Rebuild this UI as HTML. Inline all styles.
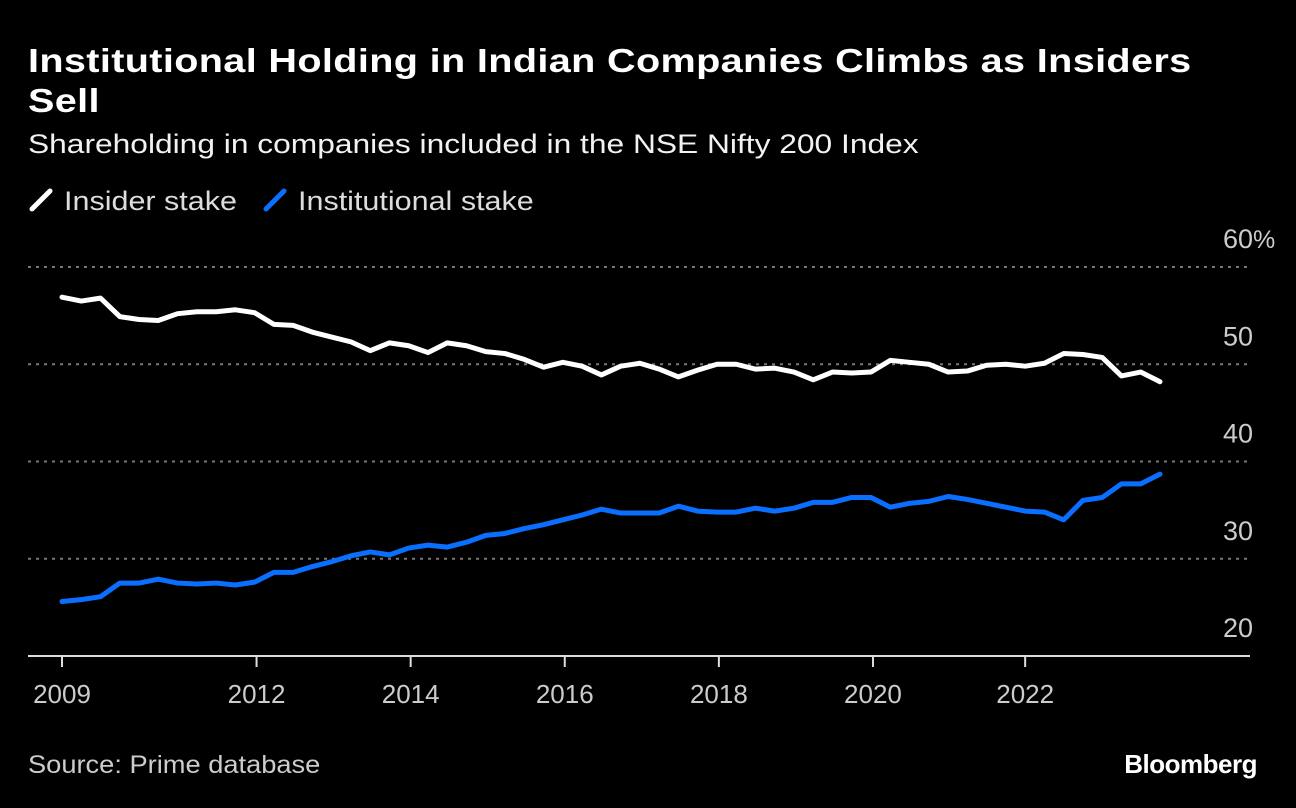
<!DOCTYPE html>
<html><head><meta charset="utf-8">
<style>
body{margin:0;background:#000;width:1296px;height:808px;overflow:hidden;font-family:"Liberation Sans",sans-serif;}
.tl{position:absolute;left:28px;color:#fff;font-weight:bold;font-size:33px;white-space:nowrap;transform:scaleX(1.2);transform-origin:left top;letter-spacing:0.3px;}
#sub{position:absolute;left:28px;top:129px;color:#f2f2f2;font-size:27px;white-space:nowrap;transform:scaleX(1.175);transform-origin:left top;}
.leg{position:absolute;top:186px;color:#ddd;font-size:27px;white-space:nowrap;}
.leg span{display:inline-block;transform:scaleX(1.13);transform-origin:left center;}
#src{position:absolute;left:28px;top:751px;color:#ccc;font-size:25px;white-space:nowrap;transform:scaleX(1.09);transform-origin:left top;}
#bb{position:absolute;right:39px;top:749px;color:#fff;font-size:26px;font-weight:bold;letter-spacing:-0.5px;}
</style></head><body>
<div class="tl" style="top:42px">Institutional Holding in Indian Companies Climbs as Insiders</div>
<div class="tl" style="top:82px">Sell</div>
<div id="sub">Shareholding in companies included in the NSE Nifty 200 Index</div>
<div class="leg" style="left:28px"><svg width="28" height="26" style="vertical-align:-3px"><line x1="4" y1="22" x2="22" y2="4" stroke="#fff" stroke-width="5" stroke-linecap="round"/></svg> <span>Insider stake</span></div>
<div class="leg" style="left:262px"><svg width="28" height="26" style="vertical-align:-3px"><line x1="4" y1="22" x2="22" y2="4" stroke="#0a6fff" stroke-width="5" stroke-linecap="round"/></svg> <span>Institutional stake</span></div>
<svg id="chart" width="1296" height="808" style="position:absolute;left:0;top:0"></svg>
<div id="src">Source: Prime database</div>
<div id="bb">Bloomberg</div>
<script>
const insider=[56.9,56.5,56.8,54.9,54.6,54.5,55.2,55.4,55.4,55.6,55.3,54.1,54.0,53.3,52.8,52.3,51.4,52.2,51.9,51.2,52.2,51.9,51.3,51.1,50.5,49.7,50.2,49.8,48.9,49.8,50.1,49.5,48.7,49.4,50.0,50.0,49.5,49.6,49.2,48.4,49.2,49.1,49.2,50.4,50.2,50.0,49.2,49.3,49.9,50.0,49.8,50.1,51.1,51.0,50.7,48.8,49.2,48.2];
const institutional=[25.6,25.8,26.1,27.5,27.5,27.9,27.5,27.4,27.5,27.3,27.6,28.6,28.6,29.2,29.7,30.3,30.7,30.4,31.1,31.4,31.2,31.7,32.4,32.6,33.1,33.5,34.0,34.5,35.1,34.7,34.7,34.7,35.4,34.9,34.8,34.8,35.2,34.9,35.2,35.8,35.8,36.3,36.3,35.3,35.7,35.9,36.4,36.1,35.7,35.3,34.9,34.8,34.0,36.0,36.3,37.7,37.7,38.7];
const xTickLabels=["2009","2012","2014","2016","2018","2020","2022"];
const xTickIdx=[0,10.1,18.1,26.1,34.1,42.1,50.0];
const yTicks=[20,30,40,50,60];
const NS="http://www.w3.org/2000/svg";
const svg=document.getElementById('chart');
const X=i=>62+i*((1160-62)/57);
const Y=v=>656-(v-20)*(656-267)/40;
function mk(t,a){const e=document.createElementNS(NS,t);for(const k in a)e.setAttribute(k,a[k]);svg.appendChild(e);return e;}
yTicks.forEach(v=>{
  if(v>20){const g=mk('line',{x1:28,x2:1249,y1:Y(v),y2:Y(v),stroke:'#777','stroke-width':2,'stroke-dasharray':'3 5'});
  
  }
  const t=mk('text',{x:1253,y:Y(v)-19,'text-anchor':'end',fill:'#ccc','font-size':27,'font-family':'Liberation Sans'});
  t.textContent=v;
  
  
  if(v===60){const p=mk('text',{x:1253,y:Y(v)-19,fill:'#ccc','font-size':25,'font-family':'Liberation Sans'});
  p.textContent='%';
  
  }
});
const ax=mk('line',{x1:28,x2:1250,y1:656,y2:656,stroke:'#ddd','stroke-width':2});


xTickLabels.forEach((l,i)=>{
  const tk=mk('line',{x1:X(xTickIdx[i]),x2:X(xTickIdx[i]),y1:656,y2:667,stroke:'#ddd','stroke-width':2});
  
  
  const t=mk('text',{x:X(xTickIdx[i]),y:703,'text-anchor':'middle',fill:'#ccc','font-size':26,'font-family':'Liberation Sans'});
  t.textContent=l;
  
  
});
function line(d,c,n){
  const p=mk('polyline',{points:d.map((v,i)=>X(i)+','+Y(v)).join(' '),fill:'none',stroke:c,'stroke-width':5,'stroke-linejoin':'round','stroke-linecap':'round'});
  
  
}
line(insider,'#ffffff','insider-stake-line');
line(institutional,'#0a6fff','institutional-stake-line');
</script>
</body></html>
